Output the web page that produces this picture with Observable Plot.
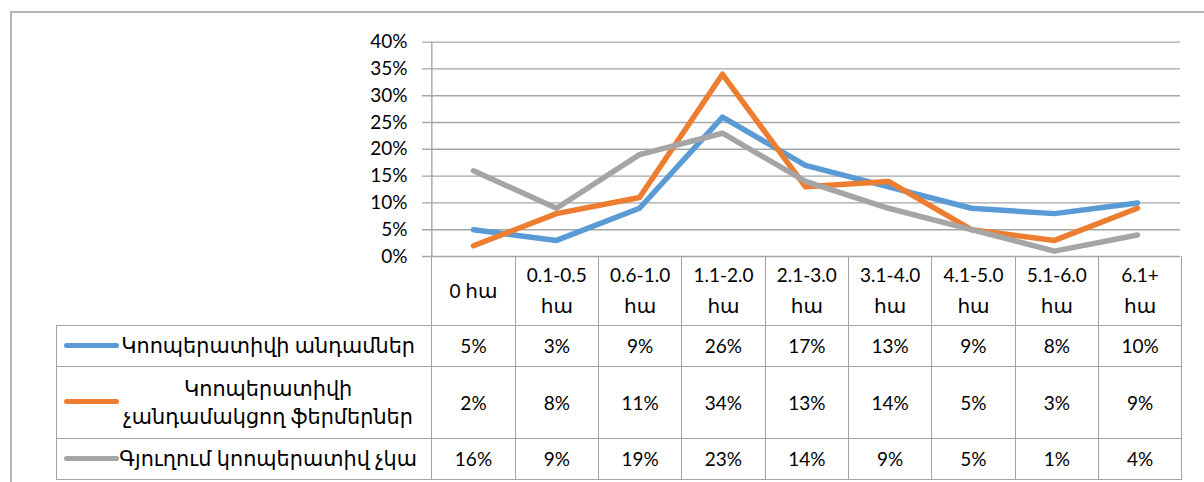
<!DOCTYPE html>
<html><head><meta charset="utf-8">
<script src="https://cdn.jsdelivr.net/npm/d3@7"></script>
<script src="https://cdn.jsdelivr.net/npm/@observablehq/plot@0.6"></script>
<style>
html,body{margin:0;padding:0;background:#fff;}
body{width:1204px;height:482px;overflow:hidden;position:relative;font-family:Lato,"DejaVu Sans",sans-serif;}
#frame{position:absolute;left:10px;top:11px;width:1300px;height:600px;border-left:2px solid #b4b4b4;border-top:2px solid #b4b4b4;}
#chart{position:absolute;left:0;top:0;}
#tbl{position:absolute;border-collapse:collapse;table-layout:fixed;}
#tbl td{border:1px solid #a3a3a3;text-align:center;vertical-align:middle;padding:0;font-size:19px;color:#000;line-height:31px;}
#tbl td.blank{border:none;}
#tbl tr.head td{border-top:none;}
#tbl td.legend{position:relative;padding-left:48px;line-height:28px;}
.arm{font-size:20px;}
.sw{position:absolute;left:7px;width:55px;height:5px;border-radius:3px;top:50%;margin-top:-3px;}
.lt{display:inline-block;width:318px;font-size:20.8px;}
</style></head><body>
<div id="frame"></div>
<div id="chart"></div>
<script>
const categories = ["0 հա","0.1-0.5 հա","0.6-1.0 հա","1.1-2.0 հա","2.1-3.0 հա","3.1-4.0 հա","4.1-5.0 հա","5.1-6.0 հա","6.1+ հա"];
const seriesNames = ["Կոոպերատիվի անդամներ","Կոոպերատիվի չանդամակցող ֆերմերներ","Գյուղում կոոպերատիվ չկա"];
const members = [5,3,9,26,17,13,9,8,10];
const nonMembers = [2,8,11,34,13,14,5,3,9];
const noCoop = [16,9,19,23,14,9,5,1,4];
const colors = ["#5b9bd5","#ed7d31","#a5a5a5"];
const yTicks = [0,0.05,0.10,0.15,0.20,0.25,0.30,0.35,0.40];

const seriesValues = [members, nonMembers, noCoop];
const data = seriesNames.flatMap((s, si) => categories.map((c, i) => ({series: s, cat: c, value: seriesValues[si][i] / 100})));

const W = 1204, H = 258, plotLeft = 430, plotRight = 1180, plotTop = 41.6, plotBottom = 256;
const step = (plotRight - plotLeft) / categories.length;

const plot = Plot.plot({
  width: W, height: H,
  marginLeft: plotLeft, marginRight: W - plotRight, marginTop: plotTop, marginBottom: H - plotBottom,
  style: {fontFamily: "Lato, 'DejaVu Sans', sans-serif", fontSize: "19px", background: "transparent", overflow: "visible"},
  x: {type: "point", domain: categories, padding: 0.5, axis: null},
  y: {domain: [0, 0.4], axis: null},
  color: {domain: seriesNames, range: colors},
  marks: [
    Plot.ruleY(yTicks, {stroke: "#a6a6a6", strokeWidth: 1.4, insetLeft: -8}),
    Plot.ruleX([categories[0]], {dx: -step / 2, stroke: "#a6a6a6", strokeWidth: 1.4}),
    Plot.axisY(yTicks, {label: null, tickSize: 0, tickPadding: 23, tickFormat: d => Math.round(d * 100) + "%", fontSize: 19, fill: "#000", color: "#000"}),
    Plot.line(data, {x: "cat", y: "value", z: "series", stroke: "series", strokeWidth: 5.5, strokeLinejoin: "round", strokeLinecap: "round"})
  ]
});
document.getElementById("chart").appendChild(plot);

// data table under the chart, aligned to the x scale
const xs = plot.scale("x");
const colLeft = c => xs.apply(c) - step / 2;
const tableLeft = 56;
const tbl = document.createElement("table");
tbl.id = "tbl";
tbl.style.left = tableLeft + "px";
tbl.style.top = plotBottom + "px";
const cg = document.createElement("colgroup");
const c0 = document.createElement("col");
c0.style.width = (colLeft(categories[0]) - tableLeft) + "px";
cg.appendChild(c0);
categories.forEach(c => { const col = document.createElement("col"); col.style.width = step + "px"; cg.appendChild(col); });
tbl.appendChild(cg);
tbl.style.width = (plotRight - tableLeft) + "px";

const head = document.createElement("tr");
head.className = "head";
head.style.height = "69px";
const blank = document.createElement("td"); blank.className = "blank"; head.appendChild(blank);
categories.forEach(c => {
  const td = document.createElement("td");
  const parts = c.split(" ");
  const unit = '<span class="arm">' + parts.slice(1).join(" ") + '</span>';
  td.innerHTML = parts[0].length > 1 ? parts[0] + "<br>" + unit : parts[0] + " " + unit;
  head.appendChild(td);
});
tbl.appendChild(head);
const rowHeights = [41, 72, 41];
seriesNames.forEach((s, si) => {
  const tr = document.createElement("tr");
  tr.style.height = rowHeights[si] + "px";
  const lg = document.createElement("td");
  lg.className = "legend";
  const sw = document.createElement("div"); sw.className = "sw"; sw.style.background = colors[si];
  lg.appendChild(sw);
  const lt = document.createElement("span"); lt.className = "lt"; lt.textContent = s; lg.appendChild(lt);
  tr.appendChild(lg);
  seriesValues[si].forEach(v => { const td = document.createElement("td"); td.textContent = v + "%"; tr.appendChild(td); });
  tbl.appendChild(tr);
});
document.body.appendChild(tbl);
</script>
</body></html>
